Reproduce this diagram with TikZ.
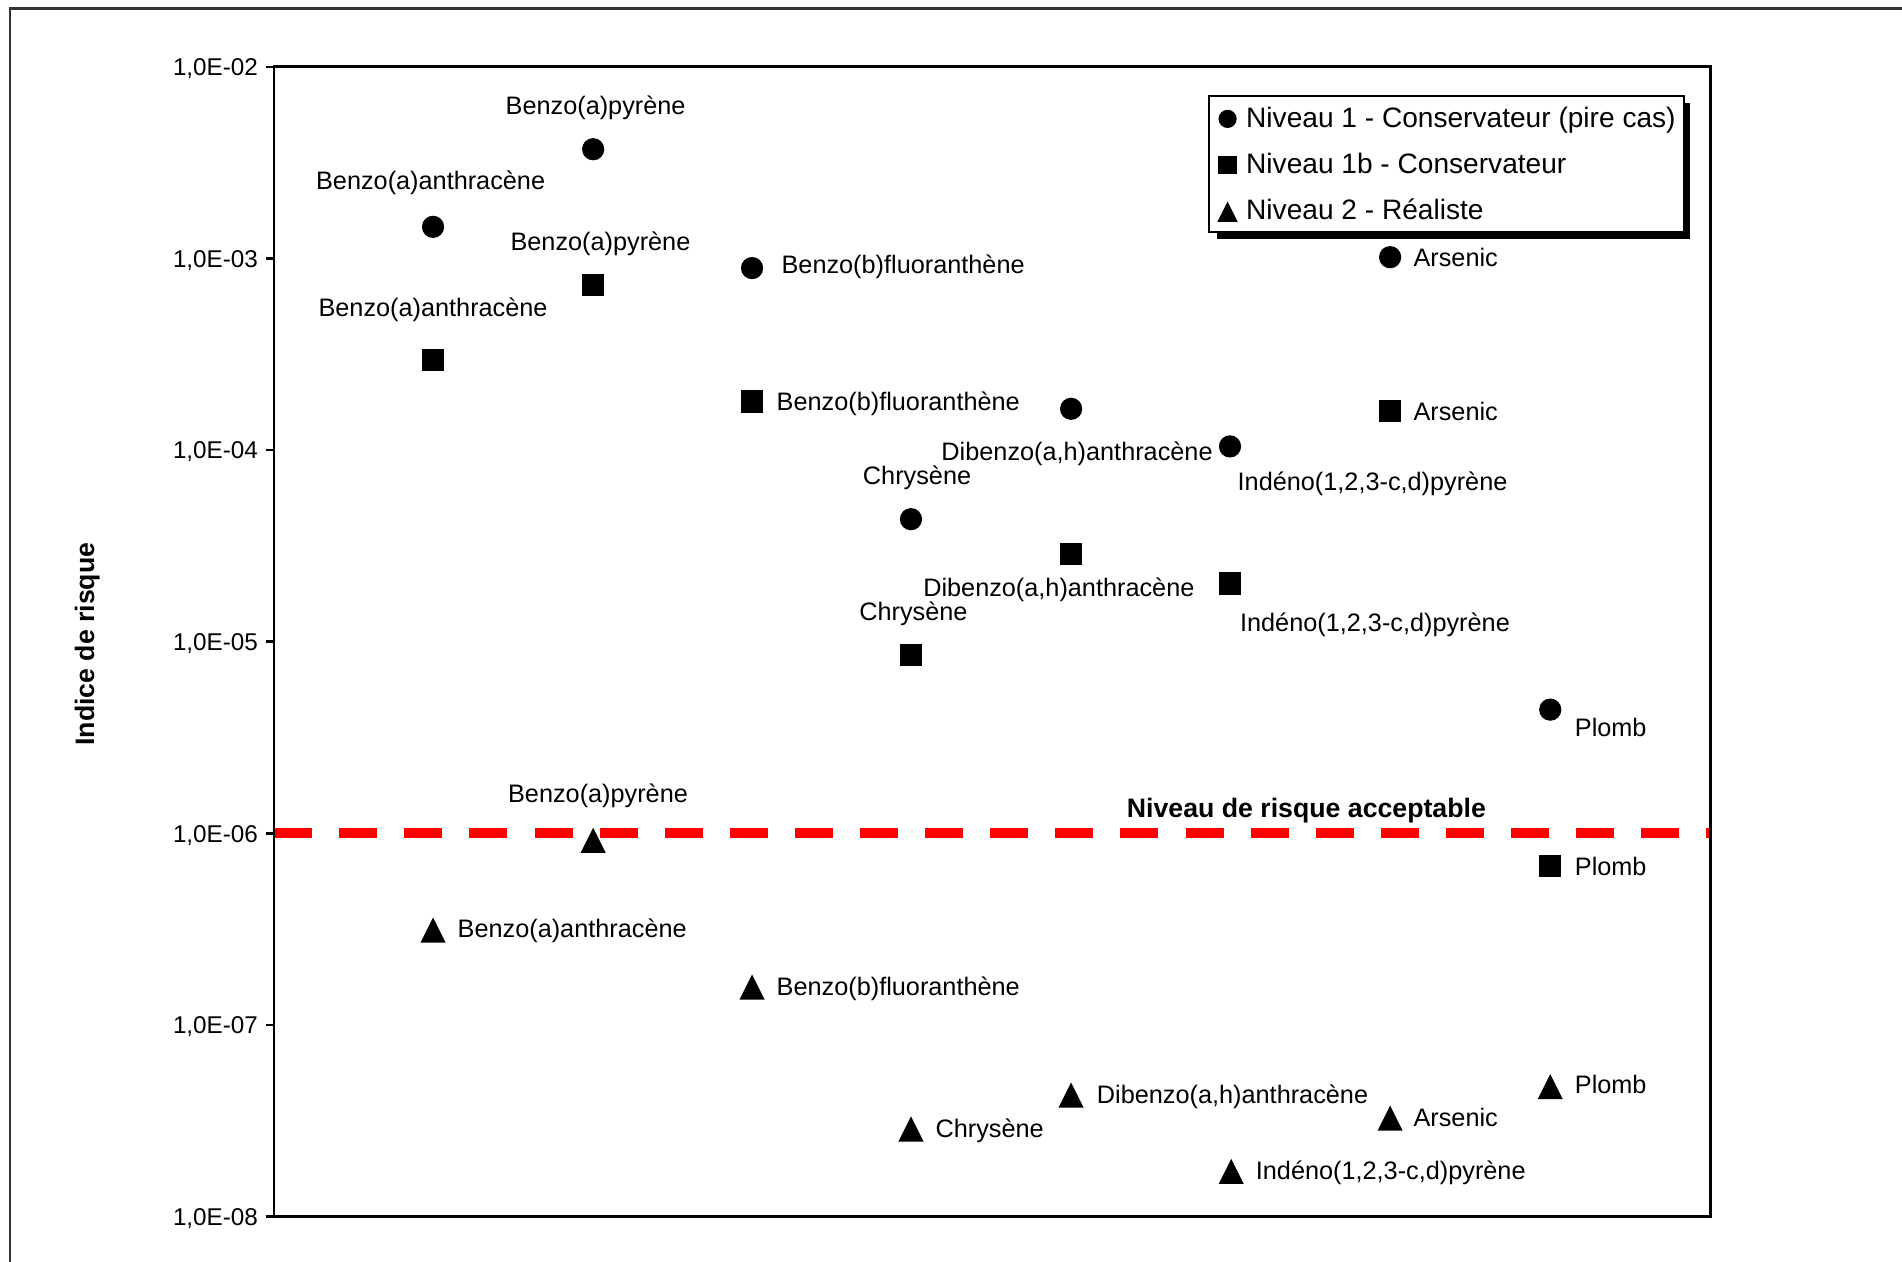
\documentclass[tikz,border=0pt]{standalone}
\usepackage{fontspec}
\setmainfont{Liberation Sans}
\usetikzlibrary{shapes.geometric}
\begin{document}
\begin{tikzpicture}[x=0.6pt,y=-0.6pt,
  mk/.style={fill=black,inner sep=0pt,draw=none},
  circ/.style={mk,circle,minimum size=11pt},
  sq/.style={mk,rectangle,minimum size=11pt},
  tri/.style={mk,isosceles triangle,isosceles triangle stretches,shape border rotate=90,minimum width=12.4pt,minimum height=12.4pt,yshift=-2.8pt},
  lcirc/.style={mk,circle,minimum size=9pt},
  lsq/.style={mk,rectangle,minimum size=9pt},
  ltri/.style={mk,isosceles triangle,isosceles triangle stretches,shape border rotate=90,minimum width=10pt,minimum height=10pt,yshift=-2.2pt},
  lbl/.style={inner sep=0pt,font=\fontsize{12.5}{14}\selectfont,text height=9pt,text depth=0pt},
  leglbl/.style={inner sep=0pt,font=\fontsize{13.9}{16}\selectfont,text height=10pt,text depth=0pt,anchor=west},
  ticklbl/.style={inner sep=0pt,font=\fontsize{12}{14}\selectfont,text height=8.6pt,text depth=0pt,anchor=east},
  frameline/.style={line width=1.3pt,black},
  riskline/.style={line width=4.9pt,red,dash pattern=on 18.8pt off 13.4pt}
]
\useasboundingbox (0,0) rectangle (1568,1040);
% outer frame (cut off at right and bottom)
\draw[line width=1pt,black!80] (8,1045) -- (8,7) -- (1575,7);

% y ticks and labels
\foreach \v in {55,213,371,529,687,845,1003}{
  \draw[line width=1.2pt] (219,\v) -- (226,\v);
}
\node[ticklbl] (t2) at (213,55) {1,0E-02};
\node[ticklbl] (t3) at (213,213) {1,0E-03};
\node[ticklbl] (t4) at (213,371) {1,0E-04};
\node[ticklbl] (t5) at (213,529) {1,0E-05};
\node[ticklbl] (t6) at (213,687) {1,0E-06};
\node[ticklbl] (t7) at (213,845) {1,0E-07};
\node[ticklbl] (t8) at (213,1003) {1,0E-08};

% axis title
\node[rotate=90,inner sep=0pt,font=\fontsize{13.2}{15}\bfseries] (ytitle) at (72,531) {Indice de risque};

% risk line
\draw[riskline] (226,687) -- (1410,687);
\node[inner sep=0pt,font=\fontsize{13.2}{15}\bfseries,text height=9.5pt,text depth=0pt] (risk) at (1077,666) {Niveau de risque acceptable};

% plot frame
\draw[frameline] (226,55) rectangle (1410,1003);

% ---- data points ----
% 1 Benzo(a)anthracene
\node[circ] (c1) at (357,187) {};
\node[sq] (s1) at (357,297) {};
\node[tri] (r1) at (357,766) {};
\node[lbl] (lc1) at (355,149) {Benzo(a)anthracène};
\node[lbl] (ls1) at (357,253) {Benzo(a)anthracène};
\node[lbl,anchor=west] (lr1) at (377,765) {Benzo(a)anthracène};
% 2 Benzo(a)pyrene
\node[circ] (c2) at (489,123) {};
\node[sq] (s2) at (489,235) {};
\node[tri] (r2) at (489,692) {};
\node[lbl] (lc2) at (491,87) {Benzo(a)pyrène};
\node[lbl] (ls2) at (495,199) {Benzo(a)pyrène};
\node[lbl] (lr2) at (493,654) {Benzo(a)pyrène};
% 3 Benzo(b)fluoranthene
\node[circ] (c3) at (620,221) {};
\node[sq] (s3) at (620,331) {};
\node[tri] (r3) at (620,813) {};
\node[lbl,anchor=west] (lc3) at (644,218) {Benzo(b)fluoranthène};
\node[lbl,anchor=west] (ls3) at (640,331) {Benzo(b)fluoranthène};
\node[lbl,anchor=west] (lr3) at (640,813) {Benzo(b)fluoranthène};
% 4 Chrysene
\node[circ] (c4) at (751,428) {};
\node[sq] (s4) at (751,540) {};
\node[tri] (r4) at (751,930) {};
\node[lbl] (lc4) at (756,392) {Chrysène};
\node[lbl] (ls4) at (753,504) {Chrysène};
\node[lbl,anchor=west] (lr4) at (771,930) {Chrysène};
% 5 Dibenzo(a,h)anthracene
\node[circ] (c5) at (883,337) {};
\node[sq] (s5) at (883,457) {};
\node[tri] (r5) at (883,902) {};
\node[lbl,anchor=east] (lc5) at (1000,372) {Dibenzo(a,h)anthracène};
\node[lbl,anchor=east] (ls5) at (985,484) {Dibenzo(a,h)anthracène};
\node[lbl,anchor=west] (lr5) at (904,902) {Dibenzo(a,h)anthracène};
% 6 Indeno(1,2,3-c,d)pyrene
\node[circ] (c6) at (1014,368) {};
\node[sq] (s6) at (1014,481) {};
\node[tri] (r6) at (1015,965) {};
\node[lbl,anchor=west] (lc6) at (1020,397) {Indéno(1,2,3-c,d)pyrène};
\node[lbl,anchor=west] (ls6) at (1022,513) {Indéno(1,2,3-c,d)pyrène};
\node[lbl,anchor=west] (lr6) at (1035,965) {Indéno(1,2,3-c,d)pyrène};
% 7 Arsenic
\node[circ] (c7) at (1146,212) {};
\node[sq] (s7) at (1146,339) {};
\node[tri] (r7) at (1146,921) {};
\node[lbl,anchor=west] (lc7) at (1165,212) {Arsenic};
\node[lbl,anchor=west] (ls7) at (1165,339) {Arsenic};
\node[lbl,anchor=west] (lr7) at (1165,921) {Arsenic};
% 8 Plomb
\node[circ] (c8) at (1278,585) {};
\node[sq] (s8) at (1278,714) {};
\node[tri] (r8) at (1278,895) {};
\node[lbl,anchor=west] (lc8) at (1298,600) {Plomb};
\node[lbl,anchor=west] (ls8) at (1298,714) {Plomb};
\node[lbl,anchor=west] (lr8) at (1298,894) {Plomb};

% ---- legend ----
\fill[black] (1003,85) rectangle (1393,197);
\draw[line width=1pt,fill=white] (997,79) rectangle (1388,191);
\node[lcirc] (lg1) at (1012,98) {};
\node[lsq] (lg2) at (1012,136) {};
\node[ltri] (lg3) at (1012,174) {};
\node[leglbl] (lt1) at (1027,97) {Niveau 1 - Conservateur (pire cas)};
\node[leglbl] (lt2) at (1027,135) {Niveau 1b - Conservateur};
\node[leglbl] (lt3) at (1027,173) {Niveau 2 - Réaliste};
\end{tikzpicture}
\end{document}
